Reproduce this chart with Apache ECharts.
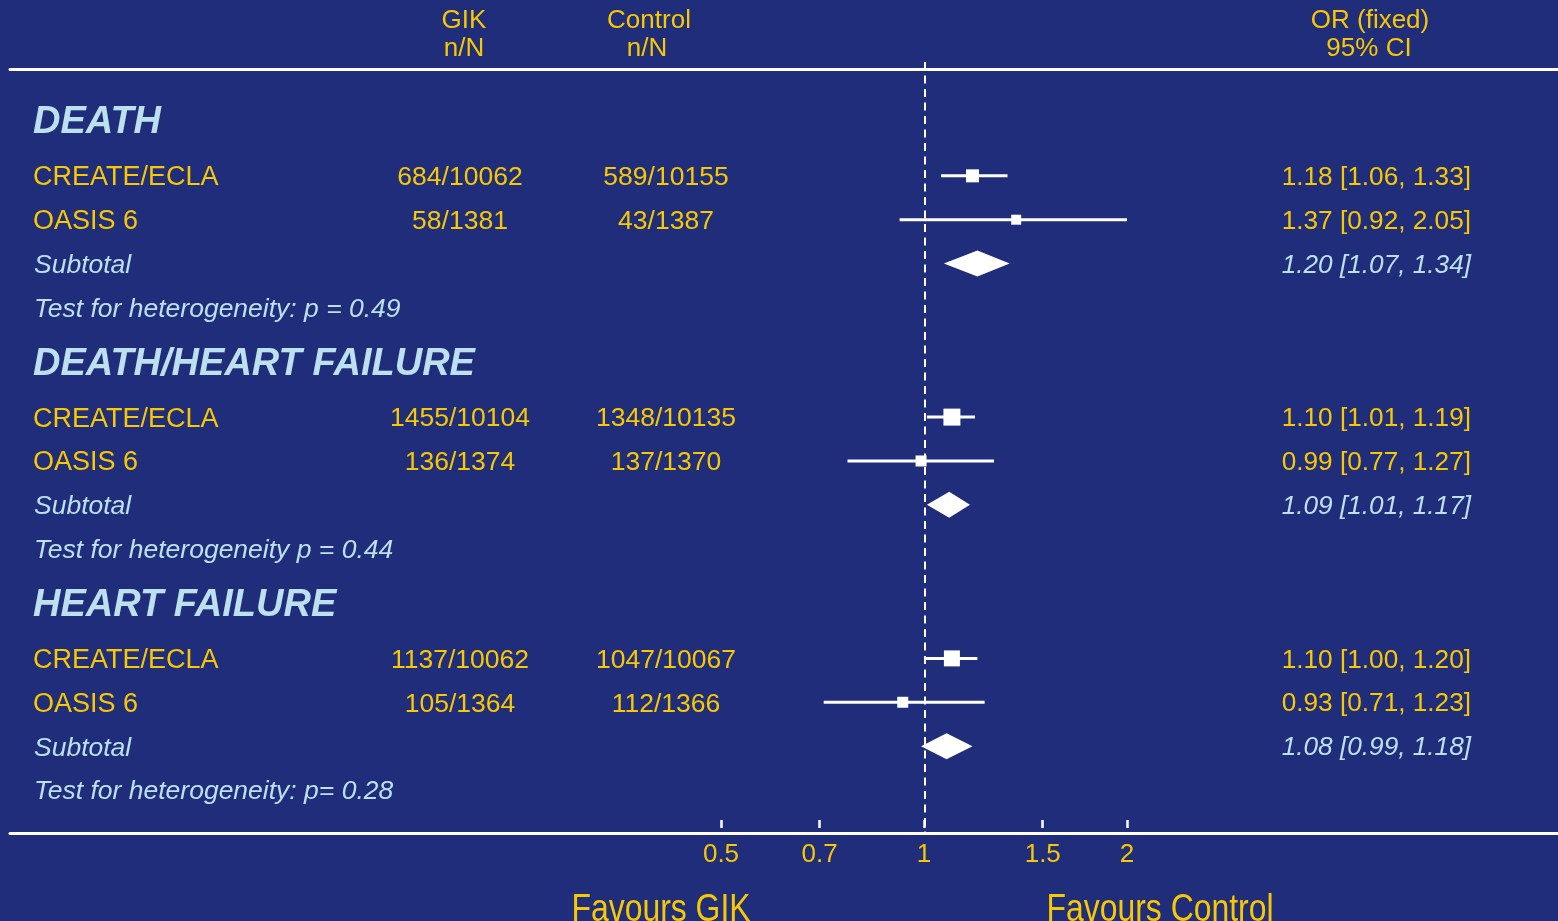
<!DOCTYPE html>
<html><head><meta charset="utf-8">
<script src="https://cdn.jsdelivr.net/npm/echarts@6/dist/echarts.min.js"></script>
<style>html,body{margin:0;padding:0;background:#1f2d7a;overflow:hidden}#c{width:1558px;height:921px}</style>
</head><body><div id="c"></div>
<script>
// ---------------- data ----------------
const outcomes = ['DEATH', 'DEATH/HEART FAILURE', 'HEART FAILURE'];
const studyNames = ['CREATE/ECLA', 'OASIS 6', 'CREATE/ECLA', 'OASIS 6', 'CREATE/ECLA', 'OASIS 6'];
const gikNN = ['684/10062', '58/1381', '1455/10104', '136/1374', '1137/10062', '105/1364'];
const controlNN = ['589/10155', '43/1387', '1348/10135', '137/1370', '1047/10067', '112/1366'];
const studyOR = [1.18, 1.37, 1.10, 0.99, 1.10, 0.93];
const studyLow = [1.06, 0.92, 1.01, 0.77, 1.00, 0.71];
const studyHigh = [1.33, 2.05, 1.19, 1.27, 1.20, 1.23];
const subtotalOR = [1.20, 1.09, 1.08];
const subtotalLow = [1.07, 1.01, 0.99];
const subtotalHigh = [1.34, 1.17, 1.18];
const heterogeneity = ['Test for heterogeneity: p = 0.49', 'Test for heterogeneity p = 0.44', 'Test for heterogeneity: p= 0.28'];
const subtotalLabel = 'Subtotal';
const tickValues = [0.5, 0.7, 1, 1.5, 2];
const tickLabels = ['0.5', '0.7', '1', '1.5', '2'];
const nullValue = [1];
const headerGIK = ['GIK', 'n/N'];
const headerControl = ['Control', 'n/N'];
const headerOR = ['OR (fixed)', '95% CI'];
const favourLabels = ['Favours GIK', 'Favours Control'];

// ---------------- styles / layout ----------------
const BG = '#1f2d7a';
const YELLOW = '#f8c800';
const PALE = '#bde0ee';
const FONT = "'Liberation Sans', Arial, Helvetica, sans-serif";
const BOX_PX = [13, 10, 17, 11, 16, 11];
const DIAMOND_H = 26;
const GRID_TOP = 69, GRID_BOTTOM = 833;
const FIRST_ROW_PX = 121, LAST_ROW_PX = 790;
const TEXT_DY = 2;
const COL_NAME = 33, COL_GIK = 460, COL_CTRL = 666, COL_OR = 1471;
const GAP_BIG = 1.25;

const fmt = v => v.toFixed(2);

// build rows
const texts = [];
const forest = [];
let y = 0;
outcomes.forEach((o, g) => {
  texts.push({x: COL_NAME, y, text: o, font: 'italic bold 38px ' + FONT, color: PALE, align: 'left'});
  y += GAP_BIG;
  for (let k = 0; k < 2; k++) {
    const i = g * 2 + k;
    texts.push({x: COL_NAME, y, text: studyNames[i], font: '27px ' + FONT, color: YELLOW, align: 'left'});
    texts.push({x: COL_GIK, y, text: gikNN[i], font: '26.5px ' + FONT, color: YELLOW, align: 'center'});
    texts.push({x: COL_CTRL, y, text: controlNN[i], font: '26.5px ' + FONT, color: YELLOW, align: 'center'});
    texts.push({x: COL_OR, y, text: fmt(studyOR[i]) + ' [' + fmt(studyLow[i]) + ', ' + fmt(studyHigh[i]) + ']', font: '26.2px ' + FONT, color: YELLOW, align: 'right'});
    forest.push([studyLow[i], studyHigh[i], studyOR[i], y, 0, i]);
    y += 1;
  }
  const fi = 'italic 26.5px ' + FONT;
  texts.push({x: COL_NAME + 1, y, text: subtotalLabel, font: fi, color: PALE, align: 'left'});
  texts.push({x: COL_OR, y, text: fmt(subtotalOR[g]) + ' [' + fmt(subtotalLow[g]) + ', ' + fmt(subtotalHigh[g]) + ']', font: 'italic 26.2px ' + FONT, color: PALE, align: 'right'});
  forest.push([subtotalLow[g], subtotalHigh[g], subtotalOR[g], y, 1, g]);
  y += 1;
  texts.push({x: COL_NAME + 1, y, text: heterogeneity[g], font: fi, color: PALE, align: 'left'});
  if (g < outcomes.length - 1) y += GAP_BIG;
});
const lastRow = y;
const unitPx = (LAST_ROW_PX - FIRST_ROW_PX) / lastRow;
const yMin = -(FIRST_ROW_PX - GRID_TOP) / unitPx;
const yMax = yMin + (GRID_BOTTOM - GRID_TOP) / unitPx;

const textData = texts.map((t, i) => [t.x, t.y, i]);

const chart = echarts.init(document.getElementById('c'), null, {renderer: 'canvas'});

const yAxisBase = {type: 'value', inverse: true, min: yMin, max: yMax, show: false};
const hiddenX = {type: 'value', min: 10, max: 1558, gridIndex: 1,
  axisLine: {show: true, onZero: false, lineStyle: {color: '#ffffff', width: 3}},
  axisTick: {show: false}, axisLabel: {show: false}, splitLine: {show: false}};

function hText(x, y, text, font, color, sx) {
  return {type: 'text', x, y, scaleX: sx || 1, silent: true,
    style: {text, font, fill: color, align: 'center', verticalAlign: 'middle', textAlign: 'center', textVerticalAlign: 'middle'}};
}

const option = {
  backgroundColor: BG,
  animation: false,
  grid: [
    {left: 721, width: 406, top: GRID_TOP, height: GRID_BOTTOM - GRID_TOP},
    {left: 10, width: 1548, top: GRID_TOP, height: GRID_BOTTOM - GRID_TOP}
  ],
  xAxis: [
    {type: 'log', logBase: 10, gridIndex: 0, min: tickValues[0], max: tickValues[tickValues.length - 1],
      position: 'bottom', offset: -5,
      axisLine: {show: false, onZero: false},
      axisTick: {show: true, inside: true, length: 8, lineStyle: {color: '#ffffff', width: 2.5}, customValues: tickValues},
      axisLabel: {show: true, color: YELLOW, fontSize: 26, fontFamily: FONT, margin: 14, customValues: tickValues,
        formatter: v => {
          let best = 0;
          tickValues.forEach((t, i) => { if (Math.abs(t - v) < Math.abs(tickValues[best] - v)) best = i; });
          return tickLabels[best];
        }},
      splitLine: {show: false}},
    Object.assign({}, hiddenX, {position: 'bottom'}),
    Object.assign({}, hiddenX, {position: 'top'})
  ],
  yAxis: [
    Object.assign({gridIndex: 0}, yAxisBase),
    Object.assign({gridIndex: 1}, yAxisBase)
  ],
  series: [
    {
      type: 'custom', name: 'table', xAxisIndex: 1, yAxisIndex: 1,
      data: textData, encode: {x: 0, y: 1},
      renderItem: (params, api) => {
        const t = texts[api.value(2)];
        const p = api.coord([api.value(0), api.value(1)]);
        return {type: 'text', x: p[0], y: p[1] + TEXT_DY,
          style: {text: t.text, font: t.font, fill: t.color, align: t.align, verticalAlign: 'middle',
            textAlign: t.align, textVerticalAlign: 'middle'}};
      }
    },
    {
      type: 'custom', name: 'null line', xAxisIndex: 0, yAxisIndex: 0,
      data: nullValue.map(v => [v, 0]), encode: {x: 0, y: 1},
      renderItem: (params, api) => {
        const cs = params.coordSys;
        const x = Math.round(api.coord([api.value(0), 0])[0]) + 1;
        return {type: 'line', shape: {x1: x, y1: cs.y - 7, x2: x, y2: cs.y + cs.height},
          style: {stroke: '#ffffff', lineWidth: 2, lineDash: [8, 5.5]}};
      }
    },
    {
      type: 'custom', name: 'forest', xAxisIndex: 0, yAxisIndex: 0,
      data: forest, encode: {x: [0, 1, 2], y: 3},
      renderItem: (params, api) => {
        const cs = params.coordSys;
        const yv = api.value(3);
        const lo = api.coord([api.value(0), yv]);
        const hi = api.coord([api.value(1), yv]);
        const est = api.coord([api.value(2), yv]);
        const x0 = Math.max(lo[0], cs.x), x1 = Math.min(hi[0], cs.x + cs.width);
        const yy = est[1];
        if (api.value(4) === 0) {
          const s = BOX_PX[api.value(5)];
          return {type: 'group', children: [
            {type: 'line', shape: {x1: x0, y1: yy, x2: x1, y2: yy}, style: {stroke: '#ffffff', lineWidth: 3}},
            {type: 'rect', shape: {x: est[0] - s / 2, y: yy - s / 2, width: s, height: s}, style: {fill: '#ffffff'}}
          ]};
        }
        const h = DIAMOND_H / 2;
        return {type: 'polygon', shape: {points: [[x0, yy], [est[0], yy - h], [x1, yy], [est[0], yy + h]]},
          style: {fill: '#ffffff'}};
      }
    }
  ],
  graphic: [
    hText(464, 21, headerGIK[0], '26px ' + FONT, YELLOW),
    hText(464, 49, headerGIK[1], '26px ' + FONT, YELLOW),
    hText(649, 21, headerControl[0], '26px ' + FONT, YELLOW),
    hText(647, 49, headerControl[1], '26px ' + FONT, YELLOW),
    hText(1370, 21, headerOR[0], '26px ' + FONT, YELLOW),
    hText(1369, 49, headerOR[1], '26px ' + FONT, YELLOW),
    hText(661, 911, favourLabels[0], '38px ' + FONT, YELLOW, 0.84),
    hText(1160, 911, favourLabels[1], '38px ' + FONT, YELLOW, 0.84)
  ]
};
chart.setOption(option);
</script>
</body></html>
